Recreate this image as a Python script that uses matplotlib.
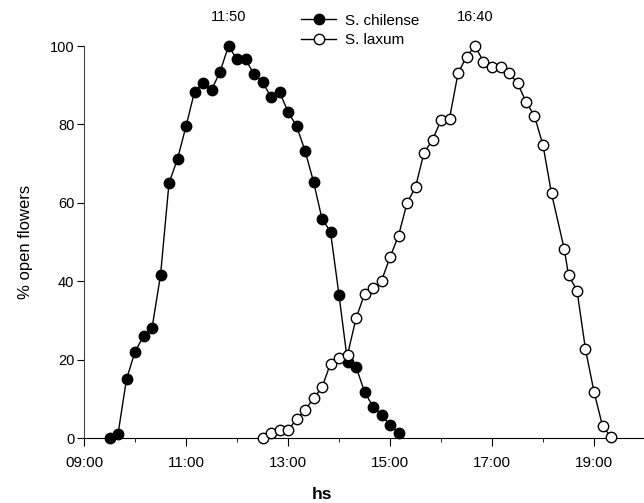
import numpy as np
import matplotlib
matplotlib.use("Agg")
import matplotlib.pyplot as plt
from matplotlib.ticker import MultipleLocator, FuncFormatter

plt.rcParams['font.family'] = ['Liberation Sans', 'DejaVu Sans']

# observation times (HH:MM) and % open flowers
chilense_times = ["09:30", "09:40", "09:50", "10:00", "10:10", "10:20", "10:30",
                  "10:40", "10:50", "11:00", "11:10", "11:20", "11:30", "11:40",
                  "11:50", "12:00", "12:10", "12:20", "12:30", "12:40", "12:50",
                  "13:00", "13:10", "13:20", "13:30", "13:40", "13:50", "14:00",
                  "14:10", "14:20", "14:30", "14:40", "14:50", "15:00", "15:10"]
chilense_pct = [0, 1, 15, 22, 26, 28, 41.5, 65, 71.2, 79.5, 88.3, 90.6, 88.8, 93.4,
                100, 96.6, 96.6, 92.8, 90.8, 87, 88.3, 83.2, 79.6, 73.3, 65.4, 55.9,
                52.6, 36.5, 19.5, 18.2, 11.8, 8, 5.9, 3.3, 1.4]

laxum_times = ["12:30", "12:40", "12:50", "13:00", "13:10", "13:20", "13:30",
               "13:40", "13:50", "14:00", "14:10", "14:20", "14:30", "14:40",
               "14:50", "15:00", "15:10", "15:20", "15:30", "15:40", "15:50",
               "16:00", "16:10", "16:20", "16:30", "16:40", "16:50", "17:00",
               "17:10", "17:20", "17:30", "17:40", "17:50", "18:00", "18:10",
               "18:25", "18:30", "18:40", "18:50", "19:00", "19:10", "19:20"]
laxum_pct = [0, 1.4, 2, 2, 4.8, 7.1, 10.1, 12.9, 19, 20.3, 21.2, 30.5, 36.7, 38.2,
             40.1, 46.1, 51.6, 59.9, 64, 72.8, 76, 81.1, 81.5, 93, 97.3, 100,
             96, 94.6, 94.6, 93.2, 90.5, 85.8, 82.1, 74.7, 62.4, 48.2, 41.6, 37.6,
             22.6, 11.8, 3.1, 0.2]

peak_labels = ["11:50", "16:40"]


def to_hours(t):
    h, m = t.split(":")
    return int(h) + int(m) / 60.0


def hour_fmt(x, pos):
    return "%02d:00" % int(round(x))


xc = np.array(list(map(to_hours, chilense_times)))
xl = np.array(list(map(to_hours, laxum_times)))

fig = plt.figure(figsize=(6.44, 5.03), dpi=100)
ax = fig.add_axes([84 / 644, 65 / 503, 561 / 644, 392 / 503])

ax.plot(xc, chilense_pct, color="black", lw=1.0, marker="o", markersize=7.5,
        markerfacecolor="black", markeredgecolor="black", label="S. chilense",
        clip_on=False, zorder=3)
ax.plot(xl, laxum_pct, color="black", lw=1.0, marker="o", markersize=7.5,
        markerfacecolor="white", markeredgecolor="black", markeredgewidth=1.0,
        label="S. laxum", clip_on=False, zorder=3)

ax.set_xlim(9, 20)
ax.set_ylim(0, 100)
ax.spines["top"].set_visible(False)
ax.spines["right"].set_visible(False)
ax.spines["left"].set_color("#444444")

ax.xaxis.set_minor_locator(MultipleLocator(1))
ax.set_xticks([9, 11, 13, 15, 17, 19])
ax.xaxis.set_major_formatter(FuncFormatter(hour_fmt))
ax.yaxis.set_major_locator(MultipleLocator(20))
ax.tick_params(axis="x", which="major", length=6, pad=7, labelsize=11)
ax.tick_params(axis="x", which="minor", length=3)
ax.tick_params(axis="y", which="major", length=5, pad=2, labelsize=10.5)

ax.set_ylabel("% open flowers", fontsize=12, labelpad=12)
ax.set_xlabel("hs", fontsize=12.5, fontweight="bold")
ax.xaxis.set_label_coords((322 - 84) / 561, -0.125)

# peak times above the plot
for t in peak_labels:
    ax.text(to_hours(t), 1.075, t, transform=ax.get_xaxis_transform(),
            ha="center", va="center", fontsize=10.5)

ax.legend(loc="upper left", bbox_to_anchor=((295 - 84) / 561, 1.098),
          frameon=False, fontsize=11, handlelength=2.3, handletextpad=0.6,
          labelspacing=0.35, borderaxespad=0)

fig.savefig("out.png", dpi=100)
